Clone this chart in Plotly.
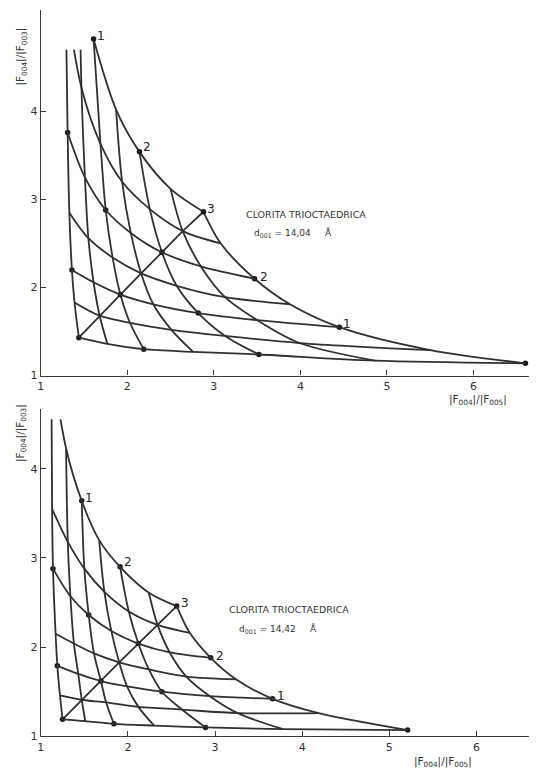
import plotly.graph_objects as go

# ---------------- data ----------------
# Node grid: row index = first parameter (0, 0.5, ... 3), column index = second parameter (0, 0.5, ... 3)
PARAM = [0, 0.5, 1, 1.5, 2, 2.5, 3]

# Upper chart: d001 = 14,04 A
X_TOP = [
    [1.44, 1.77, 2.19, 2.76, 3.52, 4.86, 6.60],
    [1.39, 1.68, 2.03, 2.51, 3.13, 3.99, 5.50],
    [1.36, 1.61, 1.92, 2.30, 2.82, 3.50, 4.45],
    [1.33, 1.55, 1.83, 2.16, 2.57, 3.13, 3.88],
    [1.31, 1.51, 1.75, 2.04, 2.40, 2.85, 3.47],
    [1.29, 1.47, 1.69, 1.94, 2.26, 2.64, 3.08],
    [1.28, 1.44, 1.61, 1.87, 2.14, 2.50, 2.88],
]
Y_TOP = [
    [1.43, 1.36, 1.30, 1.27, 1.24, 1.17, 1.14],
    [1.83, 1.68, 1.60, 1.52, 1.45, 1.37, 1.29],
    [2.20, 2.06, 1.92, 1.81, 1.71, 1.63, 1.55],
    [2.85, 2.56, 2.34, 2.16, 2.02, 1.89, 1.81],
    [3.76, 3.25, 2.88, 2.62, 2.40, 2.24, 2.10],
    [5.29, 4.27, 3.63, 3.20, 2.89, 2.64, 2.50],
    [7.99, 5.91, 4.82, 4.02, 3.54, 3.12, 2.86],
]

# Lower chart: d001 = 14,42 A
X_BOT = [
    [1.25, 1.51, 1.84, 2.30, 2.89, 3.78, 5.21],
    [1.22, 1.47, 1.75, 2.12, 2.62, 3.26, 4.19],
    [1.19, 1.43, 1.69, 1.99, 2.39, 2.94, 3.66],
    [1.17, 1.38, 1.61, 1.90, 2.24, 2.67, 3.24],
    [1.14, 1.34, 1.55, 1.81, 2.12, 2.48, 2.95],
    [1.13, 1.31, 1.50, 1.73, 2.01, 2.34, 2.71],
    [1.12, 1.29, 1.47, 1.67, 1.91, 2.24, 2.56],
]
Y_BOT = [
    [1.19, 1.17, 1.14, 1.12, 1.10, 1.08, 1.07],
    [1.46, 1.41, 1.38, 1.33, 1.30, 1.26, 1.26],
    [1.79, 1.70, 1.62, 1.56, 1.50, 1.45, 1.42],
    [2.15, 2.04, 1.93, 1.83, 1.75, 1.67, 1.64],
    [2.88, 2.57, 2.36, 2.18, 2.04, 1.94, 1.88],
    [3.55, 3.18, 2.88, 2.62, 2.40, 2.25, 2.16],
    [5.23, 4.23, 3.64, 3.20, 2.90, 2.61, 2.46],
]

# labelled nodes on the outer boundary: (row, column, text)
NODE_LABELS = [(6, 2, '1'), (6, 4, '2'), (6, 6, '3'), (4, 6, '2'), (2, 6, '1')]
X_TICKS = [1, 2, 3, 4, 5, 6]
Y_TICKS = [1, 2, 3, 4]
TITLE_LINE1 = 'CLORITA TRIOCTAEDRICA'
D_TOP = '14,04'
D_BOT = '14,42'
# --------------------------------------------------------------

# the page body has an 8 px margin on every side; keep the page exactly 537 x 784
OFF = 8
FW, FH = 537 - OFF, 784 - 2 * OFF


def fx(px):
    return (px - OFF) / FW


def fy(py):
    return 1 - (py - OFF) / FH


fig = go.Figure()
LINE = dict(color='#303030', width=1.8, shape='spline', smoothing=0.9)
n = len(PARAM)


def curve(xs, ys, xa, ya, shape='spline'):
    l = dict(LINE)
    l['shape'] = shape
    fig.add_trace(go.Scatter(x=xs, y=ys, mode='lines', line=l, xaxis=xa, yaxis=ya,
                             hoverinfo='skip', showlegend=False))


# upper chart (curves that run out of the frame are drawn on a clipped axis y3)
for i in range(n):
    js = list(range(2, n)) if i == n - 1 else list(range(n))
    curve([X_TOP[i][j] for j in js], [Y_TOP[i][j] for j in js], 'x', 'y' if i == n - 1 else 'y3')
for j in range(n):
    curve([X_TOP[i][j] for i in range(n)], [Y_TOP[i][j] for i in range(n)], 'x', 'y3' if j < 2 else 'y')
curve([X_TOP[k][k] for k in range(n)], [Y_TOP[k][k] for k in range(n)], 'x', 'y', 'linear')

# lower chart (clipped axis y4)
for i in range(n):
    curve([X_BOT[i][j] for j in range(n)], [Y_BOT[i][j] for j in range(n)], 'x2', 'y4')
for j in range(n):
    curve([X_BOT[i][j] for i in range(n)], [Y_BOT[i][j] for i in range(n)], 'x2', 'y4')
curve([X_BOT[k][k] for k in range(n)], [Y_BOT[k][k] for k in range(n)], 'x2', 'y2', 'linear')

INT = [k for k in range(n) if PARAM[k] == int(PARAM[k])]
for X, Y, xa, ya in [(X_TOP, Y_TOP, 'x', 'y'), (X_BOT, Y_BOT, 'x2', 'y2')]:
    fig.add_trace(go.Scatter(x=[X[i][j] for i in INT for j in INT],
                             y=[Y[i][j] for i in INT for j in INT],
                             mode='markers', marker=dict(color='#1a1a1a', size=5.5),
                             xaxis=xa, yaxis=ya, hoverinfo='skip', showlegend=False))

SHIFTS = [(7, 3), (8, 5), (8, 3), (9, 2), (8, 3)]
for X, Y, xa, ya in [(X_TOP, Y_TOP, 'x', 'y'), (X_BOT, Y_BOT, 'x2', 'y2')]:
    for (i, j, t), (dx, dy) in zip(NODE_LABELS, SHIFTS):
        fig.add_annotation(x=X[i][j], y=Y[i][j], xref=xa, yref=ya, text=t, showarrow=False,
                           xshift=dx, yshift=dy, font=dict(size=12, color='#222'))

ax = dict(showline=True, linecolor='#3a3a3a', linewidth=1.3, ticks='inside', ticklen=5,
          tickcolor='#3a3a3a', tickwidth=1.2, showgrid=False, zeroline=False,
          tickfont=dict(size=11, color='#333'))
fig.update_layout(
    width=FW, height=FH, margin=dict(l=0, r=0, t=0, b=0),
    paper_bgcolor='white', plot_bgcolor='rgba(0,0,0,0)', showlegend=False,
    font=dict(family='DejaVu Sans', size=10, color='#333'),
    xaxis=dict(ax, domain=[fx(37), 1.0], range=[1, 1 + 500 / 87.2], tickvals=X_TICKS, anchor='y'),
    yaxis=dict(ax, domain=[fy(379), fy(10)], range=[1, 1 + 369 / 88.9], tickvals=Y_TICKS, anchor='x'),
    yaxis3=dict(domain=[fy(379), fy(379 - 3.7 * 88.9)], range=[1, 4.7], visible=False, anchor='x'),
    xaxis2=dict(ax, domain=[fx(37), fx(530)], range=[1, 1 + 493 / 87.8], tickvals=X_TICKS, anchor='y2'),
    yaxis2=dict(ax, domain=[fy(743), fy(413)], range=[1, 1 + 330 / 90], tickvals=Y_TICKS, anchor='x2'),
    yaxis4=dict(domain=[fy(743), fy(743 - 3.556 * 90)], range=[1, 4.556], visible=False, anchor='x2'),
)


def ptext(x, y, t, size=10, angle=0, xanchor='center'):
    fig.add_annotation(x=fx(x), y=fy(y), xref='paper', yref='paper', text=t, showarrow=False,
                       textangle=angle, xanchor=xanchor, yanchor='middle',
                       font=dict(size=size, color='#333'))


SP = '\u00a0' * 5
ptext(242, 216, TITLE_LINE1, 9.5, xanchor='left')
ptext(250, 235, 'd<sub>001</sub> = ' + D_TOP + SP + 'Å', 9, xanchor='left')
ptext(225, 615, TITLE_LINE1, 9.5, xanchor='left')
ptext(235, 635, 'd<sub>001</sub> = ' + D_BOT + SP + 'Å', 9, xanchor='left')
ptext(17, 57, '|F<sub>004</sub>|/|F<sub>003</sub>|', 10.5, angle=-90)
ptext(17, 437, '|F<sub>004</sub>|/|F<sub>003</sub>|', 10.5, angle=-90)
ptext(478, 404, '|F<sub>004</sub>|/|F<sub>005</sub>|', 10.5)
ptext(442, 769, '|F<sub>004</sub>|/|F<sub>005</sub>|', 10.5)

fig.write_html('out.html')
